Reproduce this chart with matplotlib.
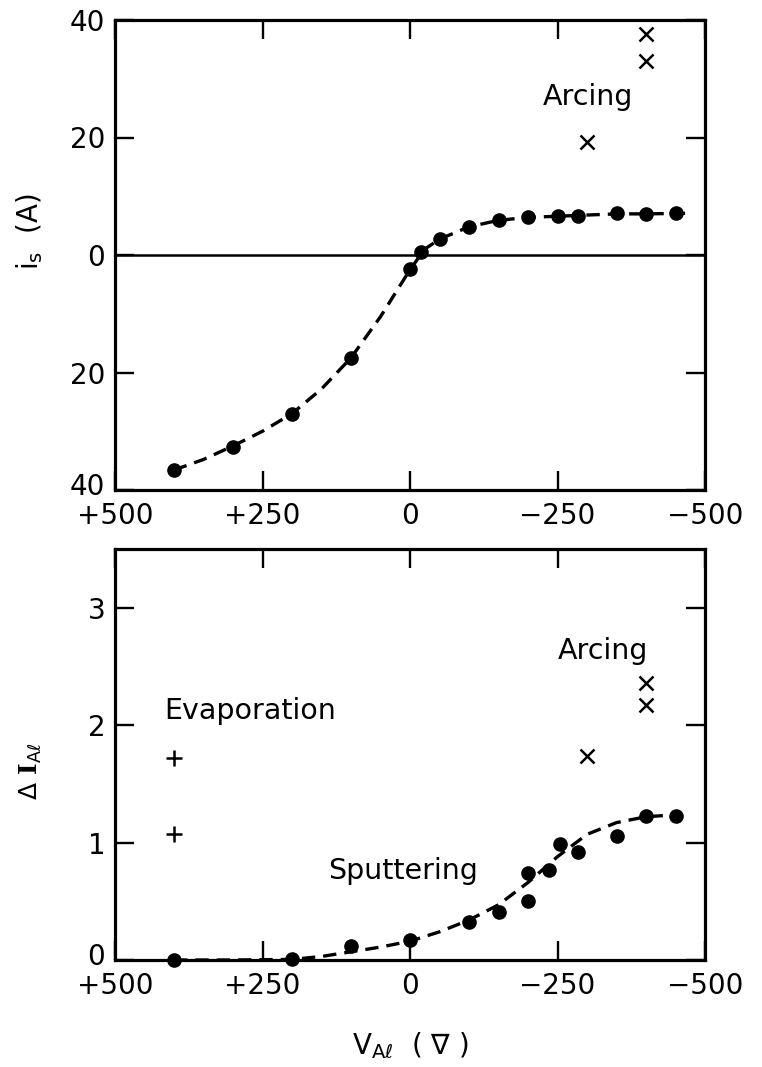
import matplotlib
matplotlib.use("Agg")
import matplotlib.pyplot as plt
from matplotlib.transforms import ScaledTranslation

plt.rcParams['font.family'] = ['DejaVu Sans']
plt.rcParams['mathtext.fontset'] = 'custom'
plt.rcParams['mathtext.rm'] = 'DejaVu Serif:bold'
plt.rcParams['mathtext.sf'] = 'DejaVu Sans'
plt.rcParams['mathtext.it'] = 'DejaVu Sans:italic'
plt.rcParams['mathtext.bf'] = 'DejaVu Sans:bold'

# ---- data: top panel (i_s vs V_Al) ----
top_v = [400, 300, 200, 100, 0, -18, -50, -100, -150, -200, -250, -285, -350, -400, -450]
top_i = [-36.6, -32.7, -27.1, -17.6, -2.3, 0.5, 2.7, 4.8, 6.0, 6.4, 6.6, 6.6, 7.1, 6.9, 7.1]
top_arc_v = [-400, -400, -300]
top_arc_i = [37.7, 33.0, 19.2]
top_fit_v = [400, 350, 300, 250, 200, 150, 100, 50, 25, 0, -25, -50, -100, -150, -200, -250, -300, -350, -400, -470]
top_fit_i = [-36.6, -34.8, -32.5, -30.0, -27.0, -22.8, -17.5, -10.5, -6.5, -2.5, 1.0, 2.7, 4.8, 5.9, 6.4, 6.6, 6.8, 7.0, 7.0, 7.1]

# ---- data: bottom panel (Delta I_Al vs V_Al) ----
bot_v = [400, 200, 100, 0, -100, -150, -200, -200, -235, -255, -285, -350, -400, -450]
bot_d = [0.0, 0.01, 0.12, 0.17, 0.32, 0.41, 0.74, 0.50, 0.77, 0.99, 0.92, 1.06, 1.23, 1.23]
bot_evap_v = [400, 400]
bot_evap_d = [1.72, 1.07]
bot_arc_v = [-400, -400, -300]
bot_arc_d = [2.36, 2.17, 1.74]
bot_fit_v = [400, 300, 200, 150, 100, 50, 0, -50, -100, -150, -200, -250, -300, -350, -400, -460]
bot_fit_d = [0.0, 0.0, 0.005, 0.03, 0.07, 0.11, 0.16, 0.24, 0.34, 0.47, 0.66, 0.88, 1.07, 1.17, 1.22, 1.24]

x_ticks = [500, 250, 0, -250, -500]
x_ticklabels = ['+500', '+250', '0', '\u2212250', '\u2212500']
top_yticks = [-40, -20, 0, 20, 40]
top_yticklabels = ['40', '20', '0', '20', '40']
bot_yticks = [0, 1, 2, 3]
bot_yticklabels = ['0', '1', '2', '3']

W, H = 762, 1067
fig = plt.figure(figsize=(W / 100, H / 100), dpi=100)

def px_axes(l, t, r, b):
    return fig.add_axes([l / W, 1 - b / H, (r - l) / W, (b - t) / H])

ax1 = px_axes(115, 20, 705, 490)
ax2 = px_axes(115, 549, 705, 960)

FS = 20
for ax in (ax1, ax2):
    for s in ax.spines.values():
        s.set_linewidth(2.3)
    ax.tick_params(direction='in', length=13.5, width=1.7, labelsize=FS,
                   top=True, right=True, pad=7)
    ax.tick_params(axis='x', pad=9)
    ax.set_xlim(500, -500)
    ax.set_xticks(x_ticks)
    ax.set_xticklabels(x_ticklabels)

line_kw = dict(color='black', lw=2.4, dashes=(4.0, 2.4))
dot_kw = dict(ls='none', marker='o', ms=9.5, color='black', clip_on=False, zorder=4)
x_kw = dict(ls='none', marker='x', ms=9.5, mew=1.8, color='black')

# top panel
ax1.set_ylim(-40, 40)
ax1.set_yticks(top_yticks)
ax1.set_yticklabels(top_yticklabels)
ax1.axhline(0, color='black', lw=1.8)
ax1.plot(top_fit_v, top_fit_i, **line_kw)
ax1.plot(top_v, top_i, **dot_kw)
ax1.plot(top_arc_v, top_arc_i, **x_kw)
ax1.text(-225, 26.9, 'Arcing', fontsize=20.5, ha='left', va='center')
ax1.text(-0.145, 0.55, r'$\mathsf{i_s}$  (A)', transform=ax1.transAxes, rotation=90,
         fontsize=FS, ha='center', va='center')

# bottom panel
ax2.set_ylim(0, 3.5)
ax2.set_yticks(bot_yticks)
ax2.set_yticklabels(bot_yticklabels)
ax2.plot(bot_fit_v, bot_fit_d, **line_kw)
ax2.plot(bot_v, bot_d, **dot_kw)
ax2.plot(bot_arc_v, bot_arc_d, **x_kw)
ax2.plot(bot_evap_v, bot_evap_d, ls='none', marker='+', ms=12, mew=1.8, color='black')
ax2.text(-251, 2.63, 'Arcing', fontsize=20.5, ha='left', va='center')
ax2.text(416, 2.12, 'Evaporation', fontsize=20.5, ha='left', va='center')
ax2.text(138, 0.76, 'Sputtering', fontsize=20.5, ha='left', va='center')
ax2.text(-0.143, 0.46, r'$\mathsf{\Delta}\ \mathrm{I}_{\mathsf{A}\ell}$', transform=ax2.transAxes,
         rotation=90, fontsize=18, ha='center', va='center')
ax2.text(0.5, -0.21, r'$\mathsf{V}_{\mathsf{A}\ell}$' + '  ( \u2207 )', transform=ax2.transAxes,
         fontsize=FS, ha='center', va='center')

# nudge corner y-tick labels upward slightly so they do not collide with x-tick labels
fig.canvas.draw()
for ax, idx in ((ax1, 0), (ax2, 0)):
    lab = ax.get_yticklabels()[idx]
    lab.set_transform(lab.get_transform() + ScaledTranslation(0, 4 / 72, fig.dpi_scale_trans))

fig.savefig('out.png', dpi=100)
